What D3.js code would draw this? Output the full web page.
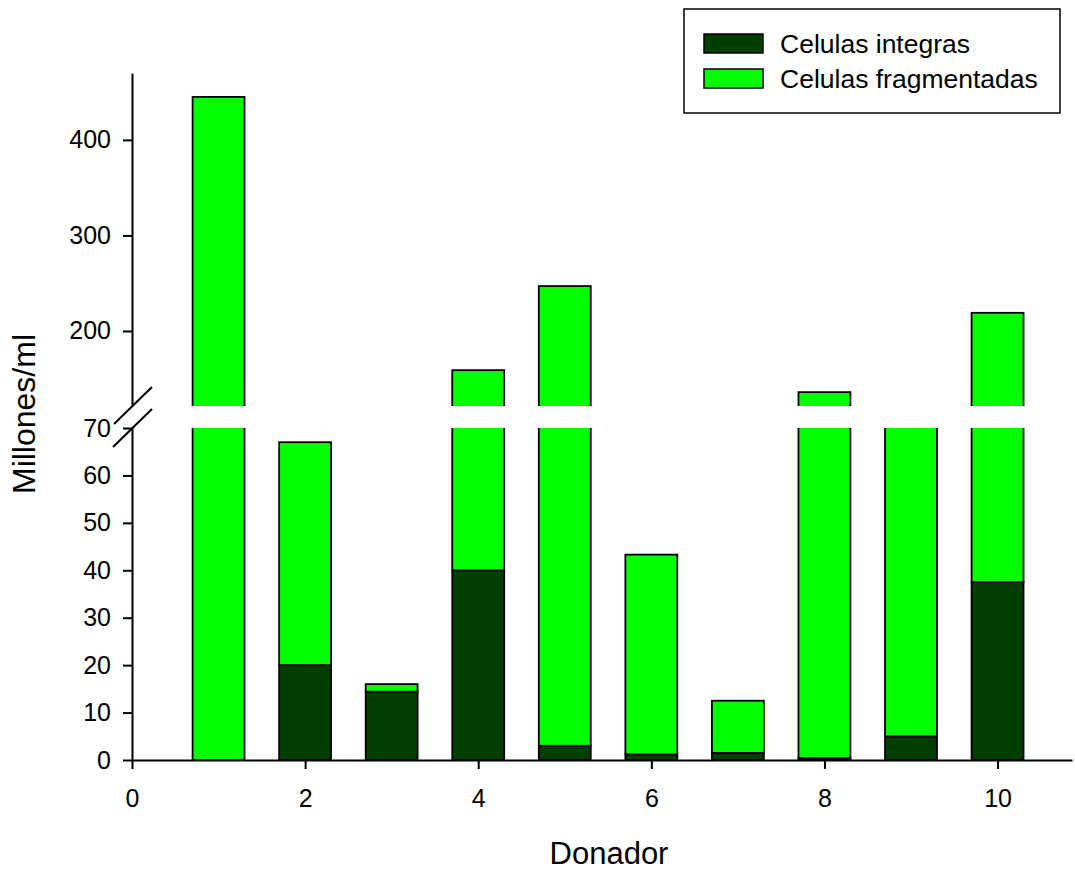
<!DOCTYPE html>
<html>
<head>
<meta charset="utf-8">
<script src="https://cdn.jsdelivr.net/npm/d3@7"></script>
<style>
  body { margin: 0; background: #fff; }
  svg { font-family: "Liberation Sans", Arial, sans-serif; }
</style>
</head>
<body>
<div id="chart"></div>
<script>
// data
const donors = [1, 2, 3, 4, 5, 6, 7, 8, 9, 10];
const integras = [0, 20, 14.4, 40, 3, 1.2, 1.5, 0.4, 5, 37.5];
const totals = [445, 67, 16, 159, 247, 43.3, 12.5, 136, 100, 219];
const lowTicks = [0, 10, 20, 30, 40, 50, 60, 70];
const highTicks = [200, 300, 400];
const xTicks = [0, 2, 4, 6, 8, 10];
const seriesNames = ["Celulas integras", "Celulas fragmentadas"];
const seriesColors = ["#003f00", "#00ff00"];

const width = 1075;
const height = 871;

const svg = d3.select("#chart")
            .append("svg")
            .attr("width", width)
            .attr("height", height)

const x = d3.scaleLinear().domain([0, 10.86]).range([132, 1072]);
const yLow = d3.scaleLinear().domain([0, 70]).range([760, 428]);
const yHigh = d3.scaleLinear().domain([121.5, 470]).range([406, 73]);
const barW = x(0.6) - x(0);

// clip regions for the two segments
const defs = svg.append("defs");
defs.append("clipPath").attr("id", "clipLow")
    .append("rect").attr("x", 0).attr("y", 428).attr("width", width).attr("height", 340);
defs.append("clipPath").attr("id", "clipHigh")
    .append("rect").attr("x", 0).attr("y", 40).attr("width", width).attr("height", 366);

function drawBars(g, y) {
    // integras (bottom)
    g.selectAll("rect.int")
        .data(donors)
        .join("rect")
            .attr("class", "int")
            .attr("x", d => x(d) - barW / 2)
            .attr("width", barW)
            .attr("y", (d, i) => y(integras[i]))
            .attr("height", (d, i) => Math.max(0, y(0) - y(integras[i])))
            .attr("fill", seriesColors[0])
            .attr("stroke", "#000")
            .attr("stroke-width", 1.8)
    // fragmentadas (top)
    g.selectAll("rect.frag")
        .data(donors)
        .join("rect")
            .attr("class", "frag")
            .attr("x", d => x(d) - barW / 2)
            .attr("width", barW)
            .attr("y", (d, i) => y(totals[i]))
            .attr("height", (d, i) => Math.max(0, y(integras[i]) - y(totals[i])))
            .attr("fill", seriesColors[1])
            .attr("stroke", "#000")
            .attr("stroke-width", 1.8)
}

drawBars(svg.append("g").attr("clip-path", "url(#clipLow)"), yLow);
drawBars(svg.append("g").attr("clip-path", "url(#clipHigh)"), yHigh);

// axes
const tickFont = "25px";

const yLowAxis = svg.append("g")
    .attr("transform", `translate(${x(0)},0)`)
    .call(d3.axisLeft(yLow).tickValues(lowTicks).tickSize(9).tickPadding(12).tickSizeOuter(0))
const yHighAxis = svg.append("g")
    .attr("transform", `translate(${x(0)},0)`)
    .call(d3.axisLeft(yHigh).tickValues(highTicks).tickSize(9).tickPadding(12).tickSizeOuter(0))
const xAxis = svg.append("g")
    .attr("transform", `translate(0,${yLow(0)})`)
    .call(d3.axisBottom(x).tickValues(xTicks).tickSize(9).tickPadding(20).tickSizeOuter(0))

svg.selectAll(".tick text")
    .style("font-size", tickFont)
    .style("font-family", "'Liberation Sans', Arial, sans-serif")
    .attr("fill", "#000")
svg.selectAll(".domain, .tick line")
    .attr("stroke", "#000")
    .attr("stroke-width", 2)

// axis break marks
const brk = svg.append("g").attr("stroke", "#000").attr("stroke-width", 2);
brk.append("line").attr("x1", 114).attr("y1", 424).attr("x2", 152).attr("y2", 387);
brk.append("line").attr("x1", 113).attr("y1", 447).attr("x2", 152).attr("y2", 409);

// axis titles
svg.append("text")
    .attr("transform", `translate(35,${(330 + 498) / 2}) rotate(-90)`)
    .attr("text-anchor", "middle")
    .style("font-size", "32px")
    .text("Millones/ml")

svg.append("text")
    .attr("x", 609)
    .attr("y", 864)
    .attr("text-anchor", "middle")
    .style("font-size", "31px")
    .text("Donador")

// legend
const legend = svg.append("g");
legend.append("rect")
    .attr("x", 684).attr("y", 9)
    .attr("width", 376).attr("height", 104)
    .attr("fill", "#fff")
    .attr("stroke", "#000")
    .attr("stroke-width", 1.5)

seriesNames.forEach((name, i) => {
    legend.append("rect")
        .attr("x", 704).attr("y", 34 + i * 35)
        .attr("width", 59).attr("height", 19)
        .attr("fill", seriesColors[i])
        .attr("stroke", "#000")
        .attr("stroke-width", 1.5)
    legend.append("text")
        .attr("x", 780).attr("y", 53 + i * 35)
        .style("font-size", "26.5px")
        .text(name)
})
</script>
</body>
</html>
